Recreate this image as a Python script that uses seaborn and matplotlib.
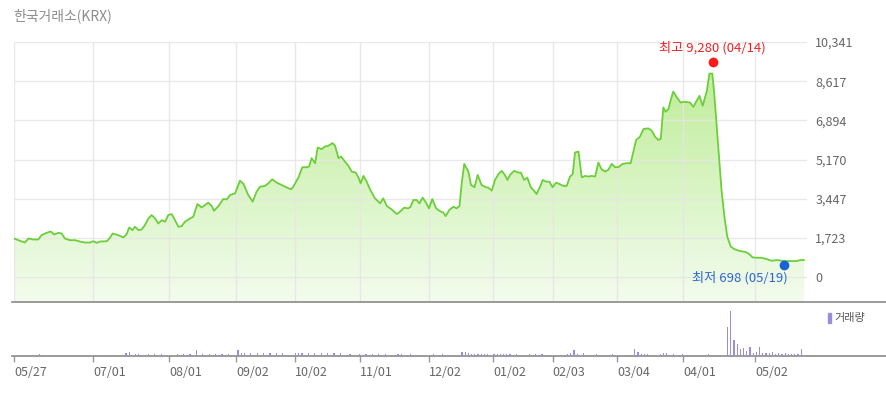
import numpy as np
import pandas as pd
import matplotlib
matplotlib.use("Agg")
import matplotlib.pyplot as plt
import seaborn as sns
from matplotlib.colors import LinearSegmentedColormap
from matplotlib.patches import Rectangle
from matplotlib import transforms

# ---------------- data ----------------
title = "한국거래소(KRX)"

day = [0, 1.9, 3.4, 4.5, 6, 7.6, 8.6, 10.2, 11.5, 12.5, 13.9, 14.9, 15.9, 17.5, 19.1, 20.6,
       22.2, 23.75, 24.8, 25.8, 26.9, 29, 30, 30.8, 32.6, 34.2, 35.2, 36, 37, 37.8, 38.9,
       39.9, 40.9, 42, 43, 44.1, 45.1, 46.2, 47.2, 48.2, 49.3, 50.3, 51.4, 52.4, 53.4, 55,
       56, 57.3, 58.6, 59.7, 60.7, 61.8,
       62.5, 63.9, 65.4, 66.5, 67.5, 69.1, 70.6, 71.7, 73.2, 74.6, 75.8, 76.9, 78.4, 79.5,
       80.7, 82.1, 83.6, 85.2, 86.5, 87.3, 88.9, 90.1, 91.5, 92.2, 93, 94.1, 94.9, 96.1,
       97.2, 98.2, 99.5, 100.3, 101.4, 102.2, 103.4, 104.5, 105.5, 106.8, 107.6, 108.3,
       109.2, 110.2, 111.25, 112.8, 114.4, 115.4, 116.5, 118, 119.6, 120.6, 121.9, 123.2,
       123.9, 124.8, 125.8,
       126.7, 127.7, 128.75, 129.7, 130.7, 131.9, 133.1, 134.2, 134.9, 136, 137.3, 138.3,
       139.2, 139.9, 140.7, 142, 142.8, 143.9, 144.9, 146.1, 147.5, 148.2, 149.3, 150.3,
       151.4, 152.4, 153.4, 154.2, 155, 156.25, 157.6, 158.4, 159.4, 160.4, 161.5, 162.5,
       163.3, 164.4, 165.2, 166.25, 167.3, 168.3, 169.4, 170.6, 171.7, 172.7, 173.75,
       174.6, 175.3, 176.4, 177.4, 178.5, 179.5, 180.5, 181.6, 182.6, 183.6, 184.7, 185.7,
       186.8, 187.8, 188.9,
       190.2, 191.5, 192.7, 193.5, 194.4, 195.6, 196.7, 198.2, 199.3, 200.3, 201.35, 202.1,
       202.9, 203.6, 204.5, 205.2, 206, 207, 208.3, 209.7, 211.25, 212.3, 213.3, 214.2,
       215.2, 216.5, 217.3, 218.2, 218.75, 219.6, 220.4, 221.1, 222, 222.9, 224, 225.3,
       226.9, 228.4, 229.5, 230.8, 232.1, 233.6, 235.2, 236.8, 238.4, 239.9, 241.5, 243.1,
       244.6, 245.6, 246.9]

price = [1694, 1590, 1517, 1694, 1650, 1650, 1841, 1944, 2003, 1870, 1944, 1914, 1694, 1620,
         1620, 1561, 1517, 1517, 1576, 1502, 1561, 1576, 1723, 1914, 1841, 1738, 1885, 2180,
         2062, 2209, 2062, 2091, 2283, 2577, 2725, 2577, 2356, 2504, 2430, 2725, 2769, 2504,
         2209, 2239, 2430, 2577, 2651, 3211, 3064, 3167, 3270, 3123,
         2916, 3123, 3432, 3417, 3608, 3682, 4242, 4095, 3608, 3314, 3756, 3977, 4006, 4124,
         4301, 4153, 4050, 3947, 3859, 3977, 4389, 4831, 4831, 4860, 5229, 5007, 5700, 5626,
         5744, 5774, 5891, 5788, 5229, 5302, 5081, 4890, 4639, 4595, 4389, 4124,
         4448, 4197, 3859, 3461, 3240, 3461, 3123, 2975, 2769, 2872, 3049, 3020,
         3093, 3388, 3388,
         3240, 3491, 3270, 3020, 3432, 3020, 2901, 2828, 2680, 2946, 3093, 3020,
         3123, 4124, 4979, 4639, 4050, 3947, 4492, 4050, 3947, 3933, 3800, 4271,
         4536, 4669, 4492, 4271, 4492, 4669, 4595, 4595, 4271, 4375, 3947, 3800,
         3652, 3977, 4271, 4197, 4197, 3947, 4153, 4080, 4006, 4006, 4419,
         4536, 5479, 5523, 4389, 4448, 4419, 4448, 4419, 5037, 4743, 4639, 4713,
         4979, 4830, 4840,
         4979, 5008, 5008, 5490, 6030, 6176, 6512, 6541, 6439, 6176, 6030, 6074,
         7461, 7271, 7388, 7782, 8161, 7928, 7680, 7709, 7680, 7490, 7753, 7972,
         7534, 8191, 8950, 8950, 8191, 6585, 5125, 3811, 2643, 1767, 1329, 1212,
         1139, 1110, 1037, 861, 847, 847, 788, 715, 745, 715, 701, 701,
         701, 745, 745]

vol_day = [8, 30, 31, 35, 36, 38, 39, 42, 44, 46, 51, 53, 55, 57, 59, 61, 63, 65, 67, 70, 71,
           72, 74, 76, 78, 80, 82, 84, 88, 89, 90, 92, 94, 96, 98, 100, 102, 105, 108, 110,
           112, 114, 116, 120, 121, 124, 131, 134, 140, 141, 142, 143, 144, 145, 146, 147,
           148, 150, 151, 152, 153, 154, 155, 157, 161, 163, 165, 173, 174, 175, 176, 178,
           182, 187, 194, 195, 196, 197, 198, 202, 203, 204, 206, 209, 217, 223, 224, 225,
           226, 227, 228, 229, 230, 231, 232, 233, 234, 235, 236, 237, 238, 239, 240, 241,
           242, 243, 244, 245, 246]
volume = [200, 150, 150, 300, 450, 200, 200, 200, 200, 200, 200, 200, 200, 650, 200, 200, 200,
          200, 200, 650, 270, 270, 270, 270, 270, 270, 270, 270, 270, 300, 270, 270, 270, 270,
          270, 270, 270, 200, 200, 200, 200, 200, 200, 200, 200, 200, 200, 200, 450, 450, 300,
          200, 250, 200, 250, 200, 200, 200, 200, 200, 200, 200, 200, 200, 200, 200, 200, 200,
          300, 580, 250, 300, 200, 200, 700, 370, 250, 250, 250, 250, 300, 300, 250, 200, 200,
          2870, 4500, 1600, 1200, 700, 830, 500, 900, 300, 370, 900, 300, 300, 300, 370, 250,
          300, 250, 300, 250, 250, 250, 250, 700]

tick_day = [0, 24.8, 48.4, 69.4, 87.8, 108.1, 129.7, 149.7, 168.3, 188.4, 209.2, 231.6]
tick_label = ["05/27", "07/01", "08/01", "09/02", "10/02", "11/01", "12/02", "01/02",
              "02/03", "03/04", "04/01", "05/02"]
y_ticks = [0, 1723, 3447, 5170, 6894, 8617, 10341]

high_day, high_value, high_label = 218.3, 9280, "최고 9,280 (04/14)"
low_day, low_value, low_label = 240.6, 698, "최저 698 (05/19)"
volume_label = "거래량"

# ---------------- figure ----------------
sns.set_theme(style="white")
plt.rcParams["font.family"] = ["Noto Sans CJK KR", "DejaVu Sans"]

W, H = 887, 396
fig = plt.figure(figsize=(W / 100, H / 100), dpi=100)
ax = fig.add_axes([14 / W, 1 - 302 / H, 793 / W, 260 / H])
ax2 = fig.add_axes([12 / W, 1 - 356 / H, 875 / W, 54 / H])

x_lo, x_hi = 0, 247.8
y_lo, y_hi = -1100, 10341

df = pd.DataFrame({"day": day, "price": price})

# gradient area fill
fill = ax.fill_between(df["day"], df["price"], y_lo, color="none", lw=0)
grad = np.linspace(0, 1, 256).reshape(-1, 1)
cmap = LinearSegmentedColormap.from_list("g", ["#f3fcee", "#b8eb8e"])
im = ax.imshow(grad, extent=[x_lo, x_hi, y_lo, y_hi], origin="lower", aspect="auto",
               cmap=cmap, zorder=1)
im.set_clip_path(fill.get_paths()[0], transform=ax.transData)

sns.lineplot(data=df, x="day", y="price", ax=ax, color="#6ccf3a", linewidth=1.3, zorder=3)

ax.set_xlim(x_lo, x_hi)
ax.set_ylim(y_lo, y_hi)
ax.set_xticks(tick_day)
ax.set_yticks(y_ticks)
ax.set_yticklabels([f"{v:,}" for v in y_ticks])
ax.yaxis.tick_right()
ax.set_axisbelow(False)
ax.grid(True, color="#e6e6e6", linewidth=1, alpha=0.85)
ax.tick_params(axis="x", length=0, labelbottom=False)
ax.tick_params(axis="y", length=0, pad=6, labelsize=9, labelcolor="#666666")
ax.set_xlabel("")
ax.set_ylabel("")
for s in ax.spines.values():
    s.set_visible(False)

# high / low markers
up = transforms.offset_copy(ax.transData, fig=fig, x=0, y=3, units="points")
down = transforms.offset_copy(ax.transData, fig=fig, x=0, y=-3, units="points")
ax.plot([high_day], [high_value], "o", color="#ff1a1a", markersize=6, transform=up,
        zorder=5, clip_on=False)
ax.plot([low_day], [low_value], "o", color="#1a63d6", markersize=6, transform=down,
        zorder=5, clip_on=False)
ax.annotate(high_label, xy=(high_day, high_value), xytext=(0, 13.3),
            textcoords="offset points", ha="center", va="center", fontsize=9.5,
            color="#f02020")
ax.annotate(low_label, xy=(low_day, low_value), xytext=(3, -12.2),
            textcoords="offset points", ha="right", va="center", fontsize=9.5,
            color="#2a68d0")

# volume panel
ax2.bar(vol_day, volume, width=0.4, color="#9c8ddb", linewidth=0, antialiased=False,
        zorder=3)
ax2.set_xlim(-0.625, 272.8)
ax2.set_ylim(0, 5400)
ax2.set_yticks([])
ax2.set_xticks(tick_day)
ax2.set_xticklabels(tick_label)
for lbl in ax2.get_xticklabels():
    lbl.set_horizontalalignment("left")
ax2.tick_params(axis="x", bottom=True, length=4, width=1, color="#999999", pad=3,
                labelsize=9, labelcolor="#666666", direction="out")
for name in ["left", "right"]:
    ax2.spines[name].set_visible(False)
for name in ["top", "bottom"]:
    ax2.spines[name].set_visible(True)
    ax2.spines[name].set_color("#8a8a8a")
    ax2.spines[name].set_linewidth(1.2)
    ax2.spines[name].set_zorder(2)

fig.patches.append(Rectangle((828 / W, 1 - 323 / H), 3 / W, 10 / H,
                             transform=fig.transFigure, color="#9c8ddb"))
fig.text(834 / W, 1 - 318 / H, volume_label, fontsize=8, color="#555555", va="center")

fig.text(13 / W, 1 - 16 / H, title, fontsize=10, color="#8c8c8c", va="center")

fig.savefig("out.png", dpi=100)
